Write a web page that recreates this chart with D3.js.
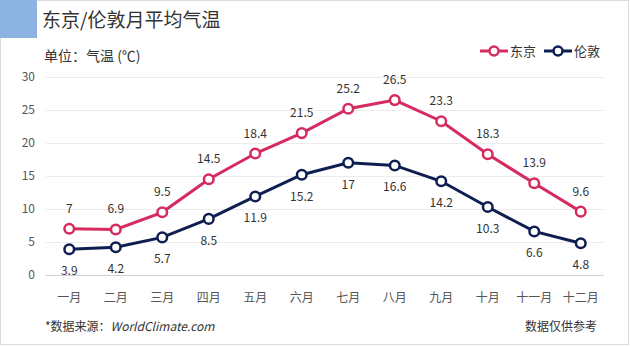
<!DOCTYPE html>
<meta charset="utf-8">
<html>
<head>
<script src="https://cdn.jsdelivr.net/npm/d3@7"></script>
<style>
  body { margin: 0; background: #fff; }
  text { font-family: "Noto Sans CJK SC", "Noto Sans", sans-serif; fill: #333; }
</style>
</head>
<body>
<div id="chart"></div>
<script>
// data
var months = ["一月","二月","三月","四月","五月","六月","七月","八月","九月","十月","十一月","十二月"];
var tokyo  = [7, 6.9, 9.5, 14.5, 18.4, 21.5, 25.2, 26.5, 23.3, 18.3, 13.9, 9.6];
var london = [3.9, 4.2, 5.7, 8.5, 11.9, 15.2, 17, 16.6, 14.2, 10.3, 6.6, 4.8];
var yTicks = [0, 5, 10, 15, 20, 25, 30];

var W = 630, H = 346;
var plot = {left: 46, right: 604, top: 77, bottom: 275};

var svg = d3.select("#chart").append("svg")
  .attr("width", W).attr("height", H);

// card border + header block
svg.append("rect").attr("x", 0.5).attr("y", 0.5).attr("width", W - 2).attr("height", H - 2)
  .attr("fill", "#fff").attr("stroke", "#dcdcdc");
svg.append("rect").attr("x", 0).attr("y", 0).attr("width", 37).attr("height", 38)
  .attr("fill", "#8db3e2");

svg.append("text").attr("x", 42).attr("y", 27).style("font-size", "19px")
  .text("东京/伦敦月平均气温");
svg.append("text").attr("x", 44).attr("y", 61).style("font-size", "14px")
  .text("单位：气温 (℃)");

var x = d3.scaleBand().domain(months).range([plot.left, plot.right]);
var y = d3.scaleLinear().domain([0, 30]).range([plot.bottom, plot.top]);

// gridlines
svg.append("g").selectAll("line").data(yTicks).enter().append("line")
  .attr("x1", plot.left).attr("x2", plot.right)
  .attr("y1", function(d) { return Math.round(y(d)) + 0.5; })
  .attr("y2", function(d) { return Math.round(y(d)) + 0.5; })
  .attr("stroke", function(d) { return d === 0 ? "#d0d0d0" : "#ececec"; });

// y labels
svg.append("g").selectAll("text").data(yTicks).enter().append("text")
  .attr("x", 35).attr("y", function(d) { return y(d) + 4; })
  .attr("text-anchor", "end").style("font-size", "12px").style("fill", "#555")
  .text(function(d) { return d; });

// x labels
svg.append("g").selectAll("text").data(months).enter().append("text")
  .attr("x", function(d) { return x(d) + x.bandwidth() / 2; })
  .attr("y", 302).attr("text-anchor", "middle").style("font-size", "12px").style("fill", "#555")
  .text(function(d) { return d; });

var series = [
  {name: "东京", values: tokyo, color: "#d52b5f", above: true},
  {name: "伦敦", values: london, color: "#0e1e50", above: false}
];

var line = d3.line()
  .x(function(d, i) { return x(months[i]) + x.bandwidth() / 2; })
  .y(function(d) { return y(d); });

series.forEach(function(s) {
  var g = svg.append("g");
  g.append("path").datum(s.values).attr("d", line)
    .attr("fill", "none").attr("stroke", s.color).attr("stroke-width", 3);
  g.selectAll("circle").data(s.values).enter().append("circle")
    .attr("cx", function(d, i) { return x(months[i]) + x.bandwidth() / 2; })
    .attr("cy", function(d) { return y(d); })
    .attr("r", 4.8).attr("fill", "#fff").attr("stroke", s.color).attr("stroke-width", 2.5);
  g.selectAll("text").data(s.values).enter().append("text")
    .attr("x", function(d, i) { return x(months[i]) + x.bandwidth() / 2; })
    .attr("y", function(d) { return s.above ? y(d) - 16 : y(d) + 26; })
    .attr("text-anchor", "middle").style("font-size", "12px")
    .text(function(d) { return d; });
});

// legend
var legend = svg.append("g").selectAll("g").data(series).enter().append("g")
  .attr("transform", function(d, i) { return "translate(" + (480 + i * 64) + ",51)"; });
legend.append("line").attr("x1", 0).attr("x2", 28)
  .attr("stroke", function(d) { return d.color; }).attr("stroke-width", 3);
legend.append("circle").attr("cx", 14).attr("r", 4.5).attr("fill", "#fff")
  .attr("stroke", function(d) { return d.color; }).attr("stroke-width", 2.5);
legend.append("text").attr("x", 30).attr("y", 5).style("font-size", "13px")
  .text(function(d) { return d.name; });

// footer
var foot = svg.append("text").attr("x", 45).attr("y", 331).style("font-size", "12px");
foot.append("tspan").text("*数据来源：");
foot.append("tspan").style("font-style", "italic").text("WorldClimate.com");
svg.append("text").attr("x", 597).attr("y", 331).attr("text-anchor", "end")
  .style("font-size", "12px").text("数据仅供参考");
</script>
</body>
</html>
